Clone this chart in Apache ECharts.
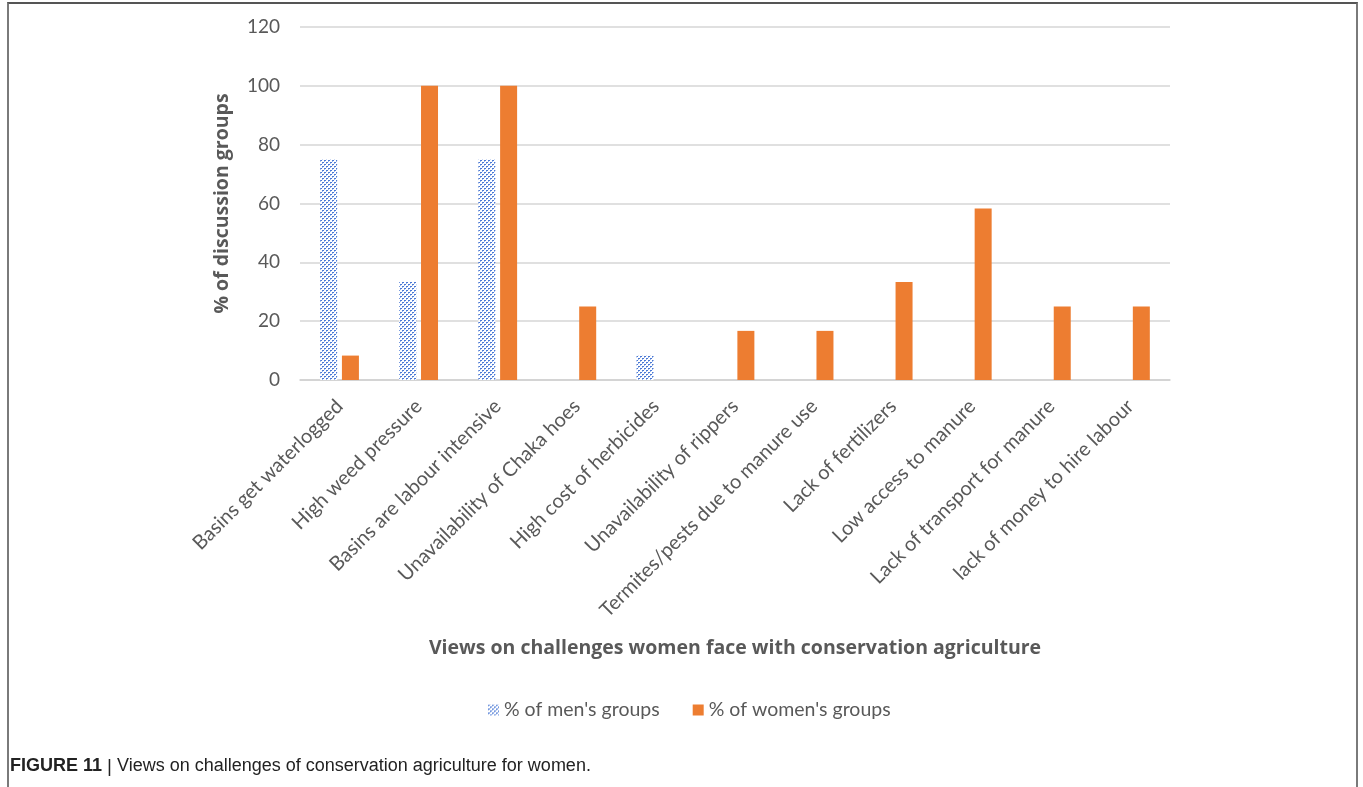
<!DOCTYPE html>
<html>
<head>
<meta charset="utf-8">
<script src="https://cdn.jsdelivr.net/npm/echarts@6/dist/echarts.min.js"></script>
<style>
  html, body { margin: 0; padding: 0; background: #fff; }
  #frame { position: absolute; left: 7px; top: 2px; width: 1347px; height: 800px;
           border-left: 2px solid #7a7a7a; border-top: 2px solid #555; border-right: 2px solid #7a7a7a; }
  #chart { position: absolute; left: 0; top: 0; width: 1363px; height: 787px; }
</style>
</head>
<body>
<div id="frame"></div>
<div id="chart"></div>
<script>
const categories = [
  'Basins get waterlogged',
  'High weed pressure',
  'Basins are labour intensive',
  'Unavailability of Chaka hoes',
  'High cost of herbicides',
  'Unavailability of rippers',
  'Termites/pests due to manure use',
  'Lack of fertilizers',
  'Low access to manure',
  'Lack of transport for manure',
  'lack of money to hire labour'
];
const menGroups = [75, 33.3, 75, 0, 8.3, 0, 0, 0, 0, 0, 0];
const womenGroups = [8.3, 100, 100, 25, 0, 16.7, 16.7, 33.3, 58.3, 25, 25];
const yTicks = [0, 20, 40, 60, 80, 100, 120];

// Fine blue dot fill for the men's series
function dotPattern() {
  const c = document.createElement('canvas');
  c.width = 4; c.height = 4;
  const g = c.getContext('2d');
  g.fillStyle = '#ffffff';
  g.fillRect(0, 0, 4, 4);
  g.fillStyle = '#4a78d4';
  g.fillRect(0, 0, 2, 1);
  g.fillRect(2, 2, 2, 1);
  g.fillStyle = '#9db7ea';
  g.fillRect(0, 1, 1, 1);
  g.fillRect(2, 3, 1, 1);
  return c;
}

const chart = echarts.init(document.getElementById('chart'));
const txt = '#595959';
chart.setOption({
  animation: false,
  grid: { left: 300, right: 193, top: 27, bottom: 407, containLabel: false },
  xAxis: {
    type: 'category',
    data: categories,
    axisLine: { lineStyle: { color: '#d0d0d0', width: 1.5 } },
    axisTick: { show: false },
    axisLabel: { rotate: 45, color: txt, fontFamily: 'Lato', fontSize: 20, margin: 23, interval: 0 },
    name: 'Views on challenges women face with conservation agriculture',
    nameLocation: 'middle',
    nameGap: 258,
    nameTextStyle: { color: txt, fontFamily: 'Open Sans', fontWeight: 'bold', fontSize: 19.5 }
  },
  yAxis: {
    type: 'value',
    min: yTicks[0],
    max: yTicks[yTicks.length - 1],
    interval: 20,
    axisLine: { show: false },
    axisTick: { show: false },
    axisLabel: { color: txt, fontFamily: 'Lato', fontSize: 19, margin: 20 },
    splitLine: { lineStyle: { color: '#d6d6d6', width: 1.5 } },
    name: '% of discussion groups',
    nameLocation: 'middle',
    nameGap: 68,
    nameTextStyle: { color: txt, fontFamily: 'Open Sans', fontWeight: 'bold', fontSize: 19.5 }
  },
  legend: {
    top: 695,
    left: 483,
    itemWidth: 11,
    itemHeight: 11,
    itemGap: 33,
    icon: 'rect',
    textStyle: { color: txt, fontFamily: 'Lato', fontSize: 19.5 },
    data: ["% of men's groups", "% of women's groups"]
  },
  graphic: [{
    type: 'text',
    left: 10,
    top: 757,
    style: {
      text: '{b|FIGURE 11} {s||} Views on challenges of conservation agriculture for women.',
      fill: '#222',
      font: '18px "Liberation Sans", sans-serif',
      rich: {
        b: { fontWeight: 'bold', fontSize: 18, fontFamily: '"Liberation Sans", sans-serif', fill: '#222' },
        s: { fontSize: 19, fill: '#222', fontFamily: '"Liberation Sans", sans-serif' }
      }
    }
  }],
  series: [
    {
      name: "% of men's groups",
      type: 'bar',
      data: menGroups,
      barWidth: 17,
      barGap: '28%',
      itemStyle: { color: { image: dotPattern(), repeat: 'repeat' } }
    },
    {
      name: "% of women's groups",
      type: 'bar',
      data: womenGroups,
      barWidth: 17,
      itemStyle: { color: '#ed7d31' }
    }
  ]
});
</script>
</body>
</html>
